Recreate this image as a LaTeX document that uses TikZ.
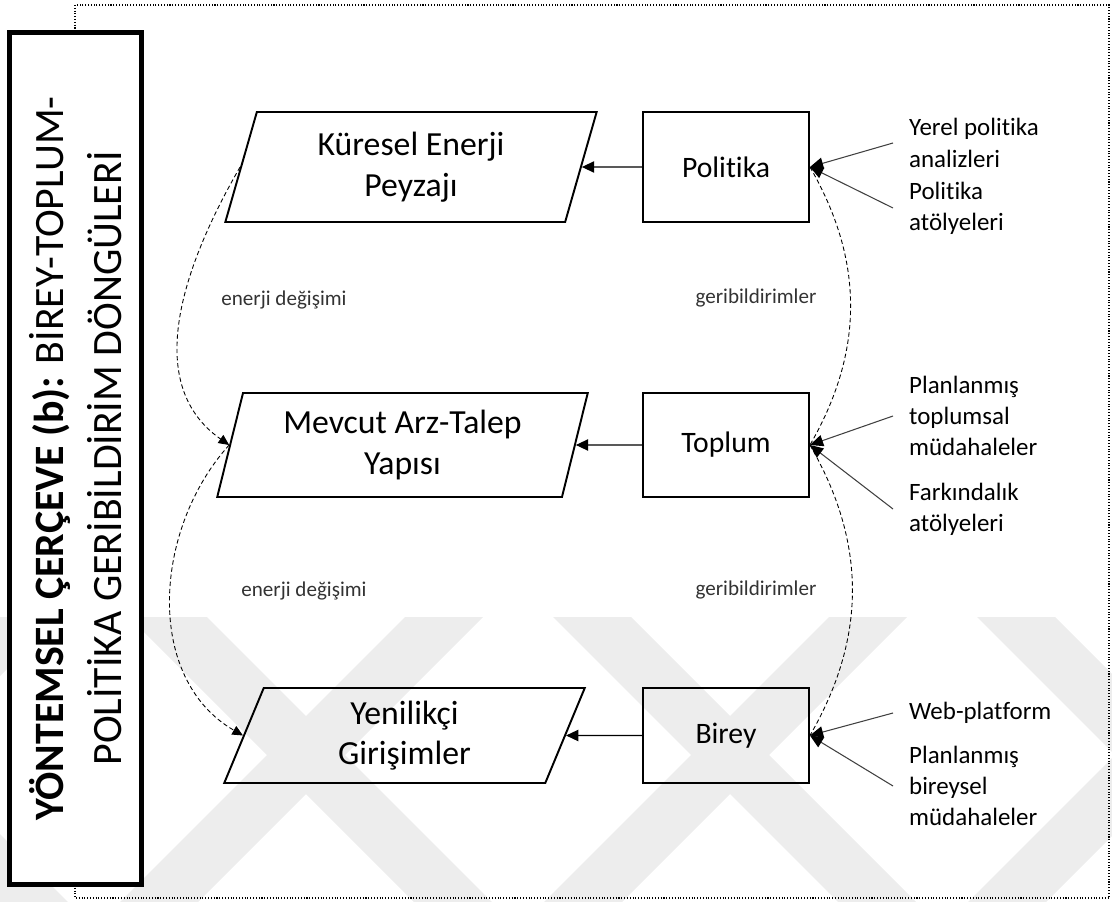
\documentclass[tikz,border=0pt]{standalone}
\usepackage{fontspec}
\setmainfont{Carlito}[Ligatures=NoCommon]
\usepackage{tikz}
\usetikzlibrary{arrows.meta,shapes.geometric}

\newcommand{\scenefont}{\fontsize{19.2}{23}\selectfont}
\newcommand{\boxfont}{\fontsize{16.9}{20}\selectfont}
\newcommand{\notefont}{\fontsize{14.2}{17.8}\selectfont}
\newcommand{\flowfont}{\fontsize{12}{14}\selectfont}
\newcommand{\titlefont}{\fontsize{23.8}{33}\selectfont}

\tikzstyle{scenebox}=[trapezium, trapezium left angle=76, trapezium right angle=104, trapezium stretches=true, draw, line width=1.1pt, align=center, font=\scenefont]
\tikzstyle{sidebox}=[rectangle, draw, line width=1.1pt, minimum width=3.32cm, font=\boxfont]
\tikzstyle{titlebox}=[rectangle, draw, fill=white, line width=2.8pt, minimum width=17.04cm, minimum height=2.64cm, align=center, font=\titlefont]
\tikzstyle{note}=[anchor=west, align=left, inner xsep=9pt, font=\notefont]
\tikzstyle{flowlabel}=[text=black!80, font=\flowfont]
\tikzstyle{edge}=[draw, line width=0.6pt, -{Triangle[length=7pt,width=6.5pt]}]
\tikzstyle{input}=[draw, line width=0.6pt, black!75, -{Triangle[length=7.5pt,width=6.5pt,black]}]
\tikzstyle{cycleline}=[draw, line width=0.5pt, dash pattern=on 2.5pt off 1.6pt]
\tikzstyle{backband}=[fill=black!7]

\begin{document}
\begin{tikzpicture}[x=0.02cm, y=0.02cm]

    \useasboundingbox (0,0) rectangle (1112,-902);

    % faint crossed bands along the bottom
    \begin{scope}
        \clip (0,-617) rectangle (1112,-902);
        \foreach \c in {213,637,1061,1485,1909}
            \path[backband] (\c-656,-617) -- (\c-578,-617) -- (\c-863,-902) -- (\c-941,-902) -- cycle;
        \foreach \c in {-873,-449,-25,399,823}
            \path[backband] (\c+578,-617) -- (\c+656,-617) -- (\c+941,-902) -- (\c+863,-902) -- cycle;
    \end{scope}

    % dotted frame, title box on top of its left side
    \draw[densely dotted, line width=0.6pt] (75,-5) rectangle (1109,-898);
    \node[titlebox, rotate=90] (title) at (75.5,-458.5)
        {\textbf{YÖNTEMSEL ÇERÇEVE (b):} BİREY-TOPLUM-\\POLİTİKA GERİBİLDİRİM DÖNGÜLERİ};

    % scenes (left) and actors (right), one row each
    \foreach \name/\x/\y/\w/\h/\txt in {kuresel/411/167/7.44/2.2/{Küresel Enerji\\Peyzajı},
                                        mevcut/402.5/445/7.42/2.08/{Mevcut Arz-Talep\\Yapısı},
                                        yenilikci/404.5/735.5/7.22/1.9/{Yenilikçi\\Girişimler}}
        \node[scenebox, minimum width=\w cm, minimum height=\h cm] (\name) at (\x,-\y) {\txt};

    \foreach \name/\y/\h/\txt in {politika/167/2.2/Politika, toplum/445/2.08/Toplum, birey/735.5/1.9/Birey}
        \node[sidebox, minimum height=\h cm] (\name) at (726,-\y) {\txt};

    \foreach \source/\dest in {politika/kuresel, toplum/mevcut, birey/yenilikci}
        \path[edge] (\source) -- (\dest);

    % inputs on the right
    \node[note] (yerel) at (893,-143) {Yerel politika\\analizleri};
    \node[note] (patolye) at (893,-208) {Politika\\atölyeleri};
    \node[note] (tplan) at (893,-416) {Planlanmış\\toplumsal\\müdahaleler};
    \node[note] (farkindalik) at (893,-509) {Farkındalık\\atölyeleri};
    \node[note] (web) at (893,-713) {Web-platform};
    \node[note] (bplan) at (893,-786) {Planlanmış\\bireysel\\müdahaleler};

    \foreach \source/\dest in {yerel/politika, patolye/politika, tplan/toplum, farkindalik/toplum, web/birey, bplan/birey}
        \path[input] (\source.west) -- (\dest.east);

    % loops
    \path[cycleline, -{Triangle[length=6pt,width=5.5pt]}] (kuresel.west) to[out=240, in=145] (mevcut.west);
    \path[cycleline, -{Triangle[length=6pt,width=5.5pt]}] (mevcut.west) to[out=228, in=150] (yenilikci.west);
    \path[cycleline] (politika.east) to[out=-60, in=60] (toplum.east);
    \path[cycleline] (toplum.east) to[out=-60, in=60] (birey.east);

    \node[flowlabel] (enerji1) at (284,-300) {enerji değişimi};
    \node[flowlabel] (enerji2) at (304,-591) {enerji değişimi};
    \node[flowlabel] (geri1) at (756,-298) {geribildirimler};
    \node[flowlabel] (geri2) at (756,-590) {geribildirimler};

\end{tikzpicture}
\end{document}
